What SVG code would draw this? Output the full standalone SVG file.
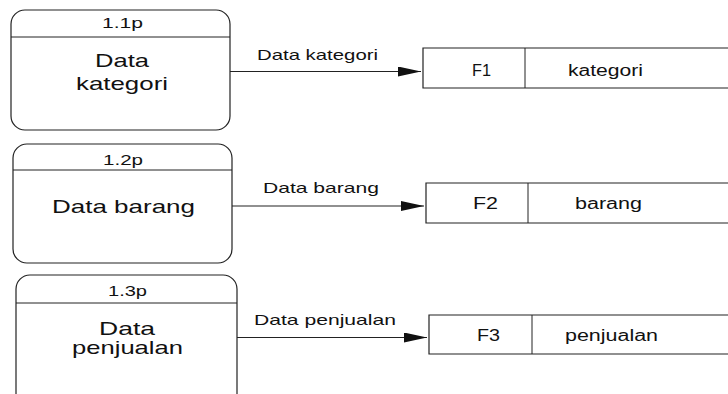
<svg xmlns="http://www.w3.org/2000/svg" width="728" height="394" viewBox="0 0 728 394">
  <style>
    .proc { fill: #fff; stroke: #222; stroke-width: 1.2; }
    .sep { stroke: #222; stroke-width: 1; }
    .store { fill: #fff; stroke: #222; stroke-width: 1.2; }
    .flow { stroke: #222; stroke-width: 1.2; fill: none; marker-end: url(#arrow); }
    text { font-family: "Liberation Sans", Arial, sans-serif; fill: #111; }
    .id { font-size: 15px; }
    .name { font-size: 19px; }
    .lbl { font-size: 15px; }
    .st { font-size: 16px; }
  </style>
  <defs>
    <marker id="arrow" markerWidth="24" markerHeight="10" refX="23" refY="5" orient="auto" markerUnits="userSpaceOnUse">
      <polygon points="0,0 23,5 0,10" fill="#111"/>
    </marker>
  </defs>
  <rect width="728" height="394" fill="#fff"/>

  <!-- processes -->
  <g id="p1-1">
    <rect class="proc" x="11" y="10" width="219" height="120" rx="14"/>
    <line class="sep" x1="11" y1="37" x2="230" y2="37"/>
    <text class="id" x="102" y="28" textLength="41" lengthAdjust="spacingAndGlyphs">1.1p</text>
    <text class="name" x="95" y="67" textLength="54" lengthAdjust="spacingAndGlyphs">Data</text>
    <text class="name" x="76" y="90" textLength="92" lengthAdjust="spacingAndGlyphs">kategori</text>
  </g>
  <g id="p1-2">
    <rect class="proc" x="13" y="144" width="219" height="119" rx="14"/>
    <line class="sep" x1="13" y1="170" x2="232" y2="170"/>
    <text class="id" x="103" y="165" textLength="40" lengthAdjust="spacingAndGlyphs">1.2p</text>
    <text class="name" x="52" y="213" textLength="143" lengthAdjust="spacingAndGlyphs">Data barang</text>
  </g>
  <g id="p1-3">
    <rect class="proc" x="16" y="275" width="221" height="140" rx="14"/>
    <line class="sep" x1="16" y1="303" x2="237" y2="303"/>
    <text class="id" x="108" y="296" textLength="39" lengthAdjust="spacingAndGlyphs">1.3p</text>
    <text class="name" x="99" y="335" textLength="56" lengthAdjust="spacingAndGlyphs">Data</text>
    <text class="name" x="72" y="354" textLength="111" lengthAdjust="spacingAndGlyphs">penjualan</text>
  </g>

  <!-- data stores (open on the right) -->
  <g id="f1">
    <path class="store" d="M728,48 H423 V88 H728"/>
    <line class="sep" x1="525" y1="48" x2="525" y2="88"/>
    <text class="st" x="472" y="76" textLength="19" lengthAdjust="spacingAndGlyphs">F1</text>
    <text class="st" x="568" y="76" textLength="75" lengthAdjust="spacingAndGlyphs">kategori</text>
  </g>
  <g id="f2">
    <path class="store" d="M728,183 H426 V223 H728"/>
    <line class="sep" x1="528" y1="183" x2="528" y2="223"/>
    <text class="st" x="473" y="209" textLength="25" lengthAdjust="spacingAndGlyphs">F2</text>
    <text class="st" x="575" y="209" textLength="67" lengthAdjust="spacingAndGlyphs">barang</text>
  </g>
  <g id="f3">
    <path class="store" d="M728,315 H429 V354 H728"/>
    <line class="sep" x1="532" y1="315" x2="532" y2="354"/>
    <text class="st" x="477" y="341" textLength="23" lengthAdjust="spacingAndGlyphs">F3</text>
    <text class="st" x="565" y="341" textLength="93" lengthAdjust="spacingAndGlyphs">penjualan</text>
  </g>

  <!-- data flows -->
  <g id="flows">
    <line class="flow" x1="230" y1="71.5" x2="421" y2="71.5"/>
    <text class="lbl" x="257" y="60" textLength="121" lengthAdjust="spacingAndGlyphs">Data kategori</text>
    <line class="flow" x1="232" y1="206" x2="424" y2="206"/>
    <text class="lbl" x="263" y="193" textLength="116" lengthAdjust="spacingAndGlyphs">Data barang</text>
    <line class="flow" x1="237" y1="337.5" x2="427" y2="337.5"/>
    <text class="lbl" x="254" y="325" textLength="142" lengthAdjust="spacingAndGlyphs">Data penjualan</text>
  </g>
</svg>
